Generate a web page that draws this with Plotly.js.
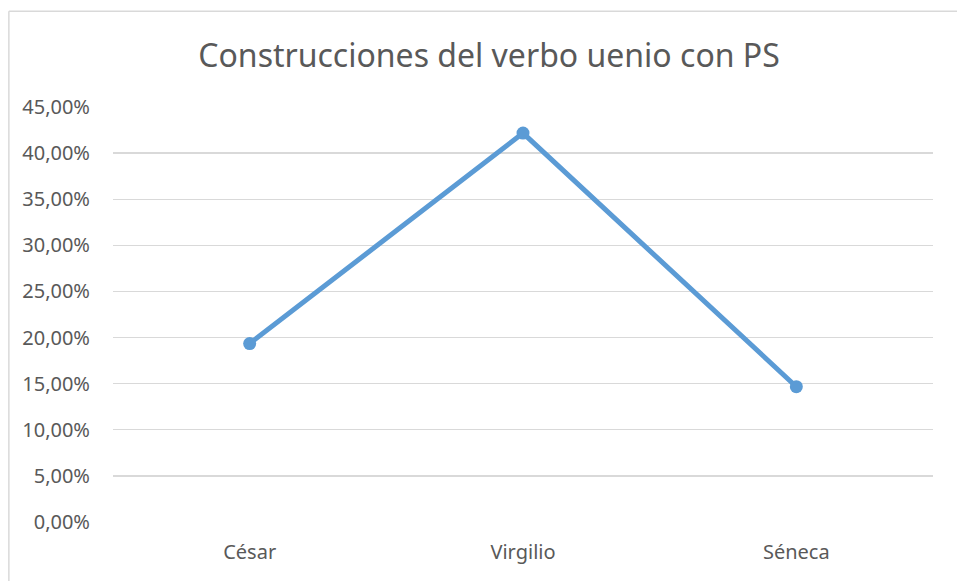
<!DOCTYPE html>
<html>
<head>
<meta charset="utf-8">
<script src="https://cdn.plot.ly/plotly-3.0.1.min.js"></script>
<style>html,body{margin:0;padding:0;background:#fff;}#chart{width:957px;height:581px;}</style>
</head>
<body>
<div id="chart"></div>
<script>
const categories = ['César', 'Virgilio', 'Séneca'];
const values = [0.1935, 0.4217, 0.1467];
const yTicks = [0, 0.05, 0.10, 0.15, 0.20, 0.25, 0.30, 0.35, 0.40, 0.45];
const chartTitle = 'Construcciones del verbo uenio con PS';

const trace = {
  x: categories,
  y: values,
  type: 'scatter',
  mode: 'lines+markers',
  line: {color: '#5B9BD5', width: 5},
  marker: {color: '#5B9BD5', size: 13},
  hoverinfo: 'x+y'
};

const layout = {
  width: 957, height: 581,
  margin: {l: 113, r: 24, t: 107, b: 59, pad: 0},
  paper_bgcolor: '#ffffff', plot_bgcolor: '#ffffff',
  separators: ', ',
  showlegend: false,
  title: {text: chartTitle, font: {family: 'Noto Sans, sans-serif', size: 32, color: '#595959'},
          x: 0.511, xanchor: 'center', y: 0.904, yanchor: 'middle'},
  xaxis: {
    type: 'category', range: [-0.5, 2.5],
    showgrid: false, zeroline: false, showline: false,
    ticks: '', ticklabelstandoff: 16,
    tickfont: {family: 'Noto Sans, sans-serif', size: 20, color: '#595959'}
  },
  yaxis: {
    range: [0, 0.45], tickvals: yTicks, tickformat: '.2%',
    showgrid: true, gridcolor: '#D9D9D9', gridwidth: 1.3,
    zeroline: false, showline: false, ticks: '',
    ticklabelstandoff: 22,
    tickfont: {family: 'Noto Sans, sans-serif', size: 20, color: '#595959'}
  },
  shapes: [
    {type: 'line', xref: 'paper', yref: 'paper', x0: -0.127, x1: 1.05, y0: 1.231, y1: 1.231,
     line: {color: '#D9D9D9', width: 1.5}},
    {type: 'line', xref: 'paper', yref: 'paper', x0: -0.127, x1: -0.127, y0: 1.231, y1: -0.2,
     line: {color: '#D9D9D9', width: 1.5}}
  ]
};

Plotly.newPlot('chart', [trace], layout, {displayModeBar: false, staticPlot: true});
</script>
</body>
</html>
